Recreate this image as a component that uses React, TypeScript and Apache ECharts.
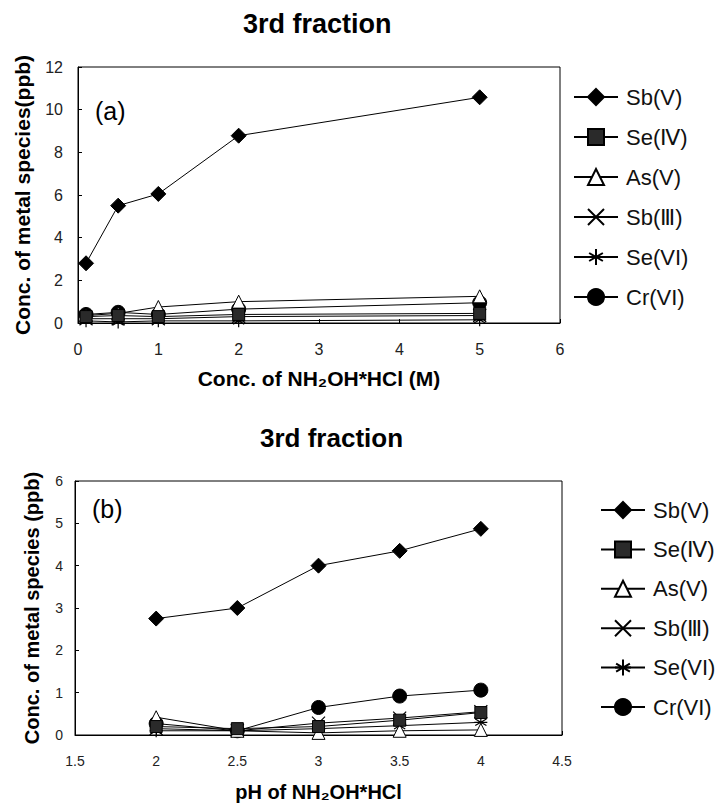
import React, { useEffect, useRef } from "react";
import * as echarts from "echarts";

// ---- Data ----
const seriesNames = ["Sb(V)", "Se(IV)", "As(V)", "Sb(III)", "Se(VI)", "Cr(VI)"];
const legendLabels = ["Sb(V)", "Se(Ⅳ)", "As(V)", "Sb(Ⅲ)", "Se(VI)", "Cr(VI)"];

// (a) concentration of NH2OH*HCl (M)
const concX = [0.1, 0.5, 1, 2, 5];
const aSbV = [2.8, 5.5, 6.05, 8.78, 10.58];
const aSeIV = [0.3, 0.35, 0.3, 0.4, 0.45];
const aAsV = [0.35, 0.45, 0.75, 1.0, 1.25];
const aSbIII = [0.2, 0.2, 0.2, 0.3, 0.35];
const aSeVI = [0.1, 0.05, 0.1, 0.1, 0.15];
const aCrVI = [0.4, 0.5, 0.4, 0.65, 0.95];

// (b) pH of NH2OH*HCl
const phX = [2, 2.5, 3, 3.5, 4];
const bSbV = [2.75, 3.0, 4.0, 4.35, 4.87];
const bSeIV = [0.2, 0.15, 0.2, 0.35, 0.53];
const bAsV = [0.42, 0.1, 0.05, 0.1, 0.12];
const bSbIII = [0.15, 0.1, 0.28, 0.4, 0.55];
const bSeVI = [0.1, 0.1, 0.15, 0.22, 0.3];
const bCrVI = [0.27, 0.1, 0.65, 0.92, 1.06];

const FONT = "'Liberation Sans', Arial, Helvetica, sans-serif";

const markerStyles: Record<string, any> = {
  "Sb(V)": { symbol: "diamond", symbolSize: 15, itemStyle: { color: "#000", borderColor: "#000", borderWidth: 1 } },
  "Se(IV)": { symbol: "rect", symbolSize: 12, itemStyle: { color: "#2a2a2a", borderColor: "#000", borderWidth: 1 } },
  "As(V)": { symbol: "triangle", symbolSize: 13, itemStyle: { color: "#fff", borderColor: "#000", borderWidth: 1 } },
  "Sb(III)": { symbol: "path://M0 0L10 10M0 10L10 0", symbolSize: 13, itemStyle: { color: "none", borderColor: "#000", borderWidth: 1.2 } },
  "Se(VI)": { symbol: "path://M5 0L5 10M0.7 2.5L9.3 7.5M0.7 7.5L9.3 2.5M0 5L10 5", symbolSize: 13, itemStyle: { color: "none", borderColor: "#000", borderWidth: 1.2 } },
  "Cr(VI)": { symbol: "circle", symbolSize: 14, itemStyle: { color: "#000", borderColor: "#000", borderWidth: 1 } },
};

function makeSeries(name: string, xs: number[], ys: number[], idx: number, z: number) {
  const m = markerStyles[name];
  return {
    name,
    type: "line",
    xAxisIndex: idx,
    yAxisIndex: idx,
    data: xs.map((x, i) => [x, ys[i]]),
    symbol: m.symbol,
    symbolSize: m.symbolSize,
    itemStyle: m.itemStyle,
    lineStyle: { color: "#000", width: 1 },
    z,
  };
}

export default function App() {
  const ref = useRef<HTMLDivElement>(null);

  useEffect(() => {
    if (!ref.current) return;
    const chart = echarts.init(ref.current, undefined, { renderer: "svg" });

    const aData = [aSbV, aSeIV, aAsV, aSbIII, aSeVI, aCrVI];
    const bData = [bSbV, bSeIV, bAsV, bSbIII, bSeVI, bCrVI];

    const series: any[] = [];
    seriesNames.forEach((n, i) => series.push(makeSeries(n, concX, aData[i], 0, 10 - i)));
    seriesNames.forEach((n, i) => series.push(makeSeries(n, phX, bData[i], 1, 10 - i)));

    const legendFormatter = (name: string) => legendLabels[seriesNames.indexOf(name)];

    const axisCommon = {
      axisLine: { show: true, lineStyle: { color: "#000", width: 1 } },
      axisTick: { show: true, inside: true, length: 4, lineStyle: { color: "#000" } },
      splitLine: { show: false },
    };

    chart.setOption({
      animation: false,
      backgroundColor: "#fff",
      title: [
        {
          text: "3rd fraction",
          left: 243,
          top: 10,
          padding: 0,
          textStyle: { fontFamily: FONT, fontSize: 27, fontWeight: "bold", color: "#000" },
        },
        {
          text: "3rd fraction",
          left: 260,
          top: 425,
          padding: 0,
          textStyle: { fontFamily: FONT, fontSize: 26, fontWeight: "bold", color: "#000" },
        },
      ],
      legend: [
        {
          orient: "vertical",
          left: 573,
          top: 86,
          padding: 0,
          itemWidth: 44,
          itemHeight: 20,
          itemGap: 18,
          data: seriesNames,
          formatter: legendFormatter,
          textStyle: { fontFamily: FONT, fontSize: 22, lineHeight: 22, color: "#111", padding: [0, 0, 0, 3] },
        },
        {
          orient: "vertical",
          left: 600,
          top: 499,
          padding: 0,
          itemWidth: 44,
          itemHeight: 20,
          itemGap: 17.4,
          data: seriesNames,
          formatter: legendFormatter,
          textStyle: { fontFamily: FONT, fontSize: 22, lineHeight: 22, color: "#111", padding: [0, 0, 0, 3] },
        },
      ],
      grid: [
        { left: 78, top: 67, width: 482, height: 256, show: true, borderColor: "#000", borderWidth: 1, backgroundColor: "transparent" },
        { left: 75, top: 481, width: 487, height: 256, show: true, borderColor: "#000", borderWidth: 1, backgroundColor: "transparent" },
      ],
      xAxis: [
        {
          type: "value",
          gridIndex: 0,
          min: 0,
          max: 6,
          interval: 1,
          ...axisCommon,
          axisLabel: { fontFamily: FONT, fontSize: 16, color: "#222", margin: 18 },
          name: "Conc. of NH₂OH*HCl (M)",
          nameLocation: "middle",
          nameGap: 45,
          nameTextStyle: { fontFamily: FONT, fontSize: 21, fontWeight: "bold", color: "#000" },
        },
        {
          type: "value",
          gridIndex: 1,
          min: 1.5,
          max: 4.5,
          interval: 0.5,
          ...axisCommon,
          axisLabel: { fontFamily: FONT, fontSize: 14, color: "#222", margin: 19 },
          name: "pH of NH₂OH*HCl",
          nameLocation: "middle",
          nameGap: 47,
          nameTextStyle: { fontFamily: FONT, fontSize: 20, fontWeight: "bold", color: "#000" },
        },
      ],
      yAxis: [
        {
          type: "value",
          gridIndex: 0,
          min: 0,
          max: 12,
          interval: 2,
          ...axisCommon,
          axisLabel: { fontFamily: FONT, fontSize: 16, color: "#222", margin: 15 },
          name: "Conc. of metal species(ppb)",
          nameLocation: "middle",
          nameGap: 45,
          nameTextStyle: { fontFamily: FONT, fontSize: 21, fontWeight: "bold", color: "#000" },
        },
        {
          type: "value",
          gridIndex: 1,
          min: 0,
          max: 6,
          interval: 1,
          ...axisCommon,
          axisLabel: { fontFamily: FONT, fontSize: 14, color: "#222", margin: 12 },
          name: "Conc. of metal species (ppb)",
          nameLocation: "middle",
          nameGap: 33,
          nameTextStyle: { fontFamily: FONT, fontSize: 20, fontWeight: "bold", color: "#000" },
        },
      ],
      graphic: [
        {
          type: "text",
          left: 95,
          top: 98,
          style: { text: "(a)", fontFamily: FONT, fontSize: 25, fill: "#000" },
        },
        {
          type: "text",
          left: 92,
          top: 496,
          style: { text: "(b)", fontFamily: FONT, fontSize: 25, fill: "#000" },
        },
      ],
      series,
    });

    return () => chart.dispose();
  }, []);

  return (
    <div
      ref={ref}
      style={{ position: "absolute", left: 0, top: 0, width: 718, height: 803, background: "#fff" }}
    />
  );
}
